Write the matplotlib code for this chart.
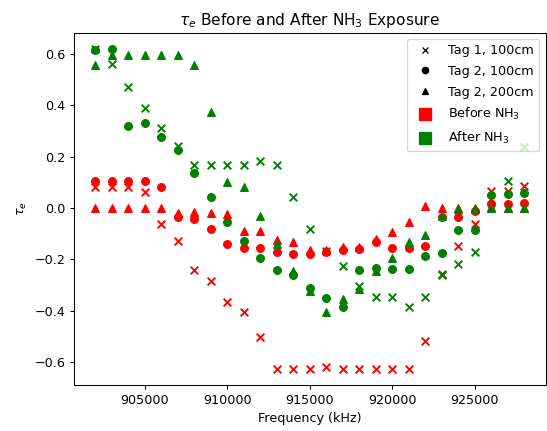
import matplotlib
matplotlib.use("Agg")
import matplotlib.pyplot as plt
from matplotlib.lines import Line2D

# Measurement frequencies (kHz)
freq = [902000, 903000, 904000, 905000, 906000, 907000, 908000, 909000, 910000,
        911000, 912000, 913000, 914000, 915000, 916000, 917000, 918000, 919000,
        920000, 921000, 922000, 923000, 924000, 925000, 926000, 927000, 928000]

# Tag 1 at 100 cm
tag1_100_before = [0.083, 0.083, 0.083, 0.064, -0.063, -0.129, -0.240, -0.285, -0.366,
                   -0.406, -0.503, -0.626, -0.626, -0.626, -0.620, -0.626, -0.626, -0.626,
                   -0.626, -0.626, -0.517, -0.255, -0.146, -0.061, 0.068, 0.068, 0.085]
tag1_100_after = [0.620, 0.562, 0.472, 0.391, 0.313, 0.242, 0.169, 0.169, 0.169,
                  0.169, 0.184, 0.169, 0.042, -0.081, -0.168, -0.226, -0.303, -0.344,
                  -0.344, -0.386, -0.344, -0.260, -0.218, -0.169, 0.036, 0.105, 0.238]

# Tag 2 at 100 cm
tag2_100_before = [0.107, 0.107, 0.107, 0.105, 0.083, -0.035, -0.042, -0.081, -0.140,
                   -0.155, -0.155, -0.171, -0.178, -0.178, -0.171, -0.162, -0.160, -0.130,
                   -0.154, -0.154, -0.148, -0.035, -0.036, -0.012, 0.014, 0.014, 0.020]
tag2_100_after = [0.615, 0.619, 0.320, 0.330, 0.275, 0.227, 0.137, 0.044, -0.055,
                  -0.129, -0.196, -0.240, -0.259, -0.309, -0.348, -0.385, -0.240, -0.235,
                  -0.236, -0.236, -0.187, -0.176, -0.087, -0.087, 0.052, 0.055, 0.058]

# Tag 2 at 200 cm
tag2_200_before = [0.0, 0.0, 0.0, 0.0, 0.0, -0.020, -0.016, -0.019, -0.024,
                   -0.091, -0.091, -0.125, -0.133, -0.162, -0.162, -0.153, -0.153, -0.122,
                   -0.094, -0.055, 0.007, 0.0, 0.0, 0.0, 0.003, 0.0, 0.0]
tag2_200_after = [0.556, 0.597, 0.597, 0.597, 0.597, 0.597, 0.556, 0.373, 0.103,
                  0.083, -0.032, -0.140, -0.245, -0.324, -0.404, -0.352, -0.313, -0.245,
                  -0.195, -0.133, -0.104, -0.030, -0.005, -0.003, 0.0, 0.0, 0.0]

DPI = 92
fig = plt.figure(figsize=(547 / DPI, 431 / DPI), dpi=DPI)
ax = fig.add_axes([0.1353, 0.1067, 0.8620, 0.8174])

ax.scatter(freq, tag1_100_before, marker="x", color="red")
ax.scatter(freq, tag1_100_after, marker="x", color="green")
ax.scatter(freq, tag2_100_before, marker="o", color="red")
ax.scatter(freq, tag2_100_after, marker="o", color="green")
ax.scatter(freq, tag2_200_before, marker="^", color="red")
ax.scatter(freq, tag2_200_after, marker="^", color="green")

handles = [
    Line2D([], [], marker="x", color="k", linestyle="None", markersize=4.5, label="Tag 1, 100cm"),
    Line2D([], [], marker="o", color="k", linestyle="None", markersize=5, label="Tag 2, 100cm"),
    Line2D([], [], marker="^", color="k", linestyle="None", markersize=5, label="Tag 2, 200cm"),
    Line2D([], [], marker="s", color="red", linestyle="None", markersize=10, label="Before NH$_3$"),
    Line2D([], [], marker="s", color="green", linestyle="None", markersize=10, label="After NH$_3$"),
]
ax.legend(handles=handles, loc="upper right", labelspacing=0.6)

ax.set_title(r"$\tau_e$ Before and After NH$_3$ Exposure")
ax.set_xlabel("Frequency (kHz)")
ax.set_ylabel(r"$\tau_e$")

fig.savefig("out.png", dpi=DPI)
